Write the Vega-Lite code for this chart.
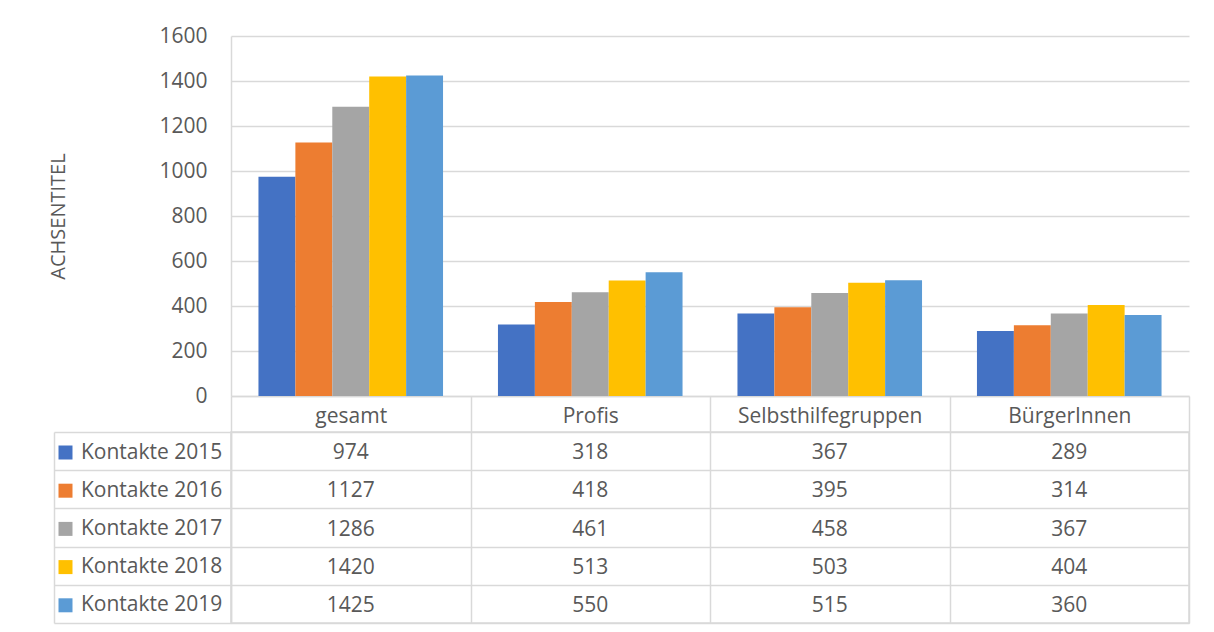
{
  "$schema": "https://vega.github.io/schema/vega-lite/v6.json",
  "padding": {"left": 44, "top": 25, "right": 25, "bottom": 8},
  "background": "white",
  "config": {
    "font": "Open Sans",
    "view": {"stroke": null},
    "axis": {"labelFont": "Open Sans", "titleFont": "Open Sans", "labelColor": "#595959", "titleColor": "#595959"},
    "legend": {"labelFont": "Open Sans"}
  },
  "datasets": {
    "kontakte": [
      {"Kategorie": "gesamt", "Serie": "Kontakte 2015", "Wert": 974},
      {"Kategorie": "gesamt", "Serie": "Kontakte 2016", "Wert": 1127},
      {"Kategorie": "gesamt", "Serie": "Kontakte 2017", "Wert": 1286},
      {"Kategorie": "gesamt", "Serie": "Kontakte 2018", "Wert": 1420},
      {"Kategorie": "gesamt", "Serie": "Kontakte 2019", "Wert": 1425},
      {"Kategorie": "Profis", "Serie": "Kontakte 2015", "Wert": 318},
      {"Kategorie": "Profis", "Serie": "Kontakte 2016", "Wert": 418},
      {"Kategorie": "Profis", "Serie": "Kontakte 2017", "Wert": 461},
      {"Kategorie": "Profis", "Serie": "Kontakte 2018", "Wert": 513},
      {"Kategorie": "Profis", "Serie": "Kontakte 2019", "Wert": 550},
      {"Kategorie": "Selbsthilfegruppen", "Serie": "Kontakte 2015", "Wert": 367},
      {"Kategorie": "Selbsthilfegruppen", "Serie": "Kontakte 2016", "Wert": 395},
      {"Kategorie": "Selbsthilfegruppen", "Serie": "Kontakte 2017", "Wert": 458},
      {"Kategorie": "Selbsthilfegruppen", "Serie": "Kontakte 2018", "Wert": 503},
      {"Kategorie": "Selbsthilfegruppen", "Serie": "Kontakte 2019", "Wert": 515},
      {"Kategorie": "BürgerInnen", "Serie": "Kontakte 2015", "Wert": 289},
      {"Kategorie": "BürgerInnen", "Serie": "Kontakte 2016", "Wert": 314},
      {"Kategorie": "BürgerInnen", "Serie": "Kontakte 2017", "Wert": 367},
      {"Kategorie": "BürgerInnen", "Serie": "Kontakte 2018", "Wert": 404},
      {"Kategorie": "BürgerInnen", "Serie": "Kontakte 2019", "Wert": 360}
    ]
  },
  "bounds": "flush",
  "spacing": 36,
  "resolve": {
    "scale": {"color": "independent", "x": "independent", "y": "independent"},
    "legend": {"color": "independent"}
  },
  "vconcat": [
    {
      "width": 958,
      "height": 360,
      "data": {"name": "kontakte"},
      "mark": {"type": "bar"},
      "encoding": {
        "x": {
          "field": "Kategorie", "type": "nominal",
          "sort": ["gesamt", "Profis", "Selbsthilfegruppen", "BürgerInnen"],
          "scale": {"paddingInner": 0, "paddingOuter": 0},
          "axis": {
            "title": null, "labelAngle": 0, "labelFontSize": 21, "labelBaseline": "middle", "labelLimit": 0,
            "domain": true, "domainColor": "#D9D9D9", "domainWidth": 1.5,
            "ticks": true, "tickBand": "extent", "tickSize": 36, "tickColor": "#D9D9D9", "tickWidth": 1.5,
            "labelPadding": -16, "grid": false
          }
        },
        "xOffset": {
          "field": "Serie", "type": "nominal",
          "scale": {"paddingInner": 0, "paddingOuter": 0.744}
        },
        "y": {
          "field": "Wert", "type": "quantitative",
          "scale": {"domain": [0, 1600], "nice": false},
          "axis": {
            "values": [0, 200, 400, 600, 800, 1000, 1200, 1400, 1600], "format": "d",
            "title": "ACHSENTITEL", "titleFontSize": 20, "titleFontWeight": "normal", "titlePadding": 90,
            "labelFontSize": 21, "labelPadding": 24, "ticks": false,
            "domain": true, "domainColor": "#D9D9D9", "domainWidth": 1.5,
            "grid": true, "gridColor": "#D9D9D9", "gridWidth": 1.5
          }
        },
        "color": {
          "field": "Serie", "type": "nominal",
          "scale": {
            "domain": ["Kontakte 2015", "Kontakte 2016", "Kontakte 2017", "Kontakte 2018", "Kontakte 2019"],
            "range": ["#4472C4", "#ED7D31", "#A5A5A5", "#FFC000", "#5B9BD5"]
          },
          "legend": null
        }
      }
    },
    {
      "width": 958,
      "height": 191,
      "view": {"stroke": "#D9D9D9", "strokeWidth": 1.5},
      "data": {"name": "kontakte"},
      "resolve": {"axis": {"y": "independent"}},
      "layer": [
        {
          "mark": {"type": "text", "fontSize": 21, "color": "#595959", "font": "Open Sans", "dy": 2},
          "encoding": {
            "x": {
              "field": "Kategorie", "type": "nominal",
              "sort": ["gesamt", "Profis", "Selbsthilfegruppen", "BürgerInnen"],
              "scale": {"paddingInner": 0, "paddingOuter": 0},
              "axis": {
                "title": null, "labels": false, "ticks": false, "domain": false,
                "grid": true, "tickBand": "extent", "gridColor": "#D9D9D9", "gridWidth": 1.5
              }
            },
            "y": {
              "field": "Serie", "type": "nominal",
              "scale": {"paddingInner": 0, "paddingOuter": 0},
              "axis": {
                "title": null, "labels": false, "orient": "left",
                "ticks": true, "tickBand": "extent", "tickSize": 177, "tickColor": "#D9D9D9", "tickWidth": 1.5,
                "grid": true, "gridColor": "#D9D9D9", "gridWidth": 1.5,
                "domain": true, "domainColor": "#D9D9D9", "domainWidth": 1.5
              }
            },
            "text": {"field": "Wert", "type": "quantitative"}
          }
        },
        {
          "mark": {"type": "text"},
          "encoding": {
            "y": {
              "field": "Serie", "type": "nominal",
              "axis": {
                "title": null, "labels": false, "orient": "left", "offset": 177,
                "ticks": false, "grid": false,
                "domain": true, "domainColor": "#D9D9D9", "domainWidth": 1.5
              }
            },
            "text": {"value": ""},
            "color": {
              "field": "Serie", "type": "nominal",
              "scale": {
                "domain": ["Kontakte 2015", "Kontakte 2016", "Kontakte 2017", "Kontakte 2018", "Kontakte 2019"],
                "range": ["#4472C4", "#ED7D31", "#A5A5A5", "#FFC000", "#5B9BD5"]
              },
              "legend": {
                "title": null, "orient": "left", "offset": -180, "padding": 10,
                "symbolType": "square", "symbolSize": 196, "symbolStrokeWidth": 0, "symbolOpacity": 1,
                "labelFontSize": 21, "labelColor": "#595959", "labelOffset": 5,
                "rowPadding": 16.2
              }
            }
          }
        }
      ]
    }
  ]
}
